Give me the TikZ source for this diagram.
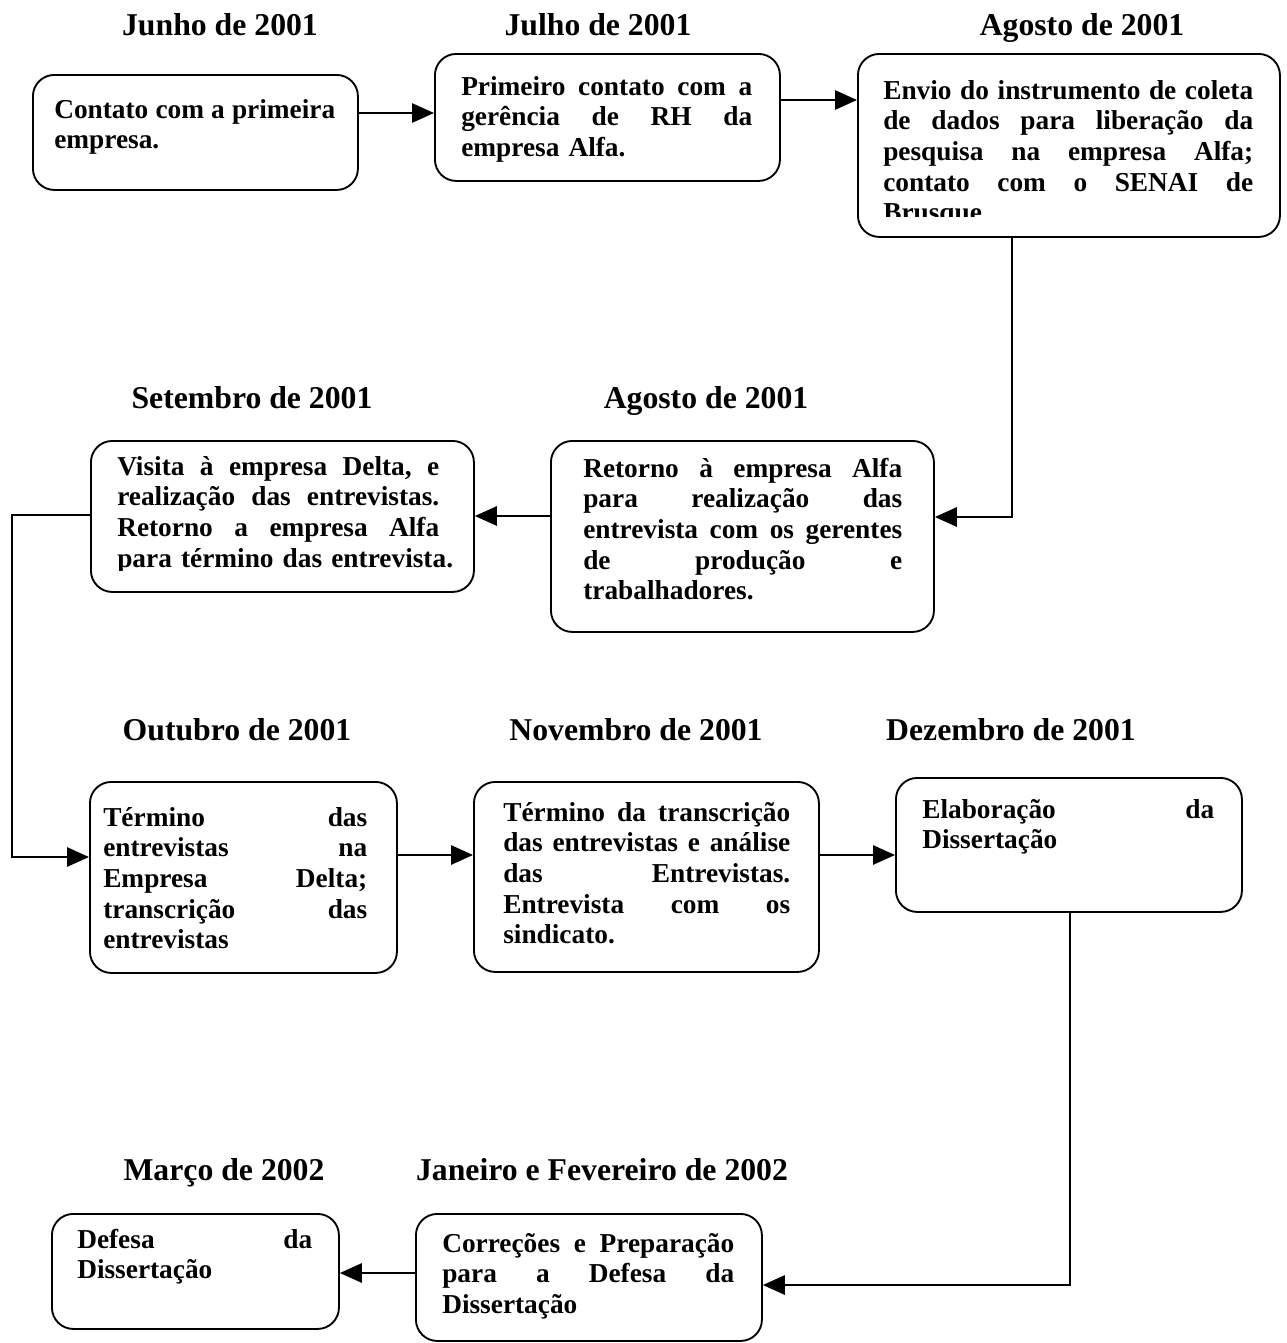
\documentclass[tikz,border=0pt]{standalone}
\usepackage{fontspec}
\setmainfont{Liberation Serif}
\usetikzlibrary{arrows.meta}
\ExplSyntaxOn
\cs_new_protected:Npn \my_jline:n #1
  {
    \tl_set:Nn \l_tmpa_tl {#1}
    \tl_replace_all:Nnn \l_tmpa_tl { ~ } { \hskip .25em plus 1fill minus .05em \relax }
    \hbox_to_wd:nn { \hsize } { \l_tmpa_tl }
  }
\NewDocumentCommand \jline { m } { \my_jline:n {#1} \par }
\NewDocumentCommand \lline { m } { \hbox_to_wd:nn { \hsize } { #1 \hss } \par }
\ExplSyntaxOff
\newcommand{\bodyfnt}{\fontsize{20.5}{23}\selectfont\bfseries}
\newcommand{\ttlfnt}{\fontsize{23.8}{28}\selectfont\bfseries}
\begin{document}
\begin{tikzpicture}[x=0.75pt,y=-0.75pt,
  box/.style={draw, line width=1.4pt, rounded corners=16pt, inner sep=0pt, anchor=north west},
  txt/.style={inner sep=0pt, anchor=base west, font=\bodyfnt},
  ttl/.style={inner sep=0pt, anchor=base, font=\ttlfnt},
  conn/.style={line width=1.4pt, -{Triangle[length=16.5pt,width=14.5pt]}}]
\fill[white] (0,0) rectangle (1286,1343);
\useasboundingbox (0,0) rectangle (1286,1343);

% titles
\node[ttl] (h1) at (220,35) {Junho de 2001};
\node[ttl] (h2) at (598,35) {Julho de 2001};
\node[ttl] (h3) at (1082,35) {Agosto de 2001};
\node[ttl] (h4) at (252,408) {Setembro de 2001};
\node[ttl] (h5) at (706,408) {Agosto de 2001};
\node[ttl] (h6) at (237,740) {Outubro de 2001};
\node[ttl] (h7) at (636,740) {Novembro de 2001};
\node[ttl] (h8) at (1011,740) {Dezembro de 2001};
\node[ttl] (h9) at (224,1180) {Março de 2002};
\node[ttl] (h10) at (602,1180) {Janeiro e Fevereiro de 2002};

% boxes
\node[box, minimum width=243.75pt, minimum height=86.25pt] (b1) at (32,74) {};
\node[box, minimum width=258.75pt, minimum height=95.25pt] (b2) at (434,53) {};
\node[box, minimum width=316.5pt, minimum height=137.25pt] (b3) at (857,53) {};
\node[box, minimum width=287.25pt, minimum height=143.25pt] (b4) at (550,440) {};
\node[box, minimum width=287.25pt, minimum height=113.25pt] (b5) at (90,440) {};
\node[box, minimum width=230.25pt, minimum height=143.25pt] (b6) at (89,781) {};
\node[box, minimum width=258.75pt, minimum height=142.5pt] (b7) at (473,781) {};
\node[box, minimum width=259.5pt, minimum height=100.5pt] (b8) at (895,777) {};
\node[box, minimum width=259.5pt, minimum height=95.25pt] (b9) at (415,1213) {};
\node[box, minimum width=215.25pt, minimum height=86.25pt] (b10) at (51,1213) {};

% texts
\node[txt, text width=210.75pt] (t1) at (54,118) {\jline{Contato com a primeira}\lline{empresa.}};
\node[txt, text width=218.25pt] (t2) at (461,95) {\jline{Primeiro contato com a}\jline{gerência de RH da}\lline{empresa Alfa.}};
\begin{scope}
\clip (857,53) rectangle (1279,216);
\node[txt, text width=277.5pt] (t3) at (883,99) {\jline{Envio do instrumento de coleta}\jline{de dados para liberação da}\jline{pesquisa na empresa Alfa;}\jline{contato com o SENAI de}\lline{Brusque.}};
\end{scope}
\node[txt, text width=239.25pt] (t4) at (583,477) {\jline{Retorno à empresa Alfa}\jline{para realização das}\jline{entrevista com os gerentes}\jline{de produção e}\lline{trabalhadores.}};
\begin{scope}
\clip (90,440) rectangle (473,570);
\node[txt, text width=241.5pt] (t5) at (117,475) {\jline{Visita à empresa Delta, e}\jline{realização das entrevistas.}\jline{Retorno a empresa Alfa}\lline{para término das entrevista.}};
\end{scope}
\node[txt, text width=198pt] (t6) at (103,826) {\jline{Término das}\jline{entrevistas na}\jline{Empresa Delta;}\jline{transcrição das}\lline{entrevistas}};
\node[txt, text width=215.25pt] (t7) at (503,821) {\jline{Término da transcrição}\jline{das entrevistas e análise}\jline{das Entrevistas.}\jline{Entrevista com os}\lline{sindicato.}};
\node[txt, text width=219pt] (t8) at (922,818) {\jline{Elaboração da}\lline{Dissertação}};
\node[txt, text width=219pt] (t9) at (442,1252) {\jline{Correções e Preparação}\jline{para a Defesa da}\lline{Dissertação}};
\node[txt, text width=176.25pt] (t10) at (77,1248) {\jline{Defesa da}\lline{Dissertação}};

% connectors
\draw[conn] (b1.east |- 0,113) -- (b2.west |- 0,113);
\draw[conn] (b2.east |- 0,100) -- (b3.west |- 0,100);
\draw[conn] (b3.south -| 1012,0) -- (1012,517) -- (b4.east |- 0,517);
\draw[conn] (b4.west |- 0,516) -- (b5.east |- 0,516);
\draw[conn] (b5.west |- 0,515) -- (12,515) -- (12,857) -- (b6.west |- 0,857);
\draw[conn] (b6.east |- 0,855) -- (b7.west |- 0,855);
\draw[conn] (b7.east |- 0,855) -- (b8.west |- 0,855);
\draw[conn] (b8.south -| 1070,0) -- (1070,1285) -- (b9.east |- 0,1285);
\draw[conn] (b9.west |- 0,1273) -- (b10.east |- 0,1273);
\end{tikzpicture}
\end{document}
